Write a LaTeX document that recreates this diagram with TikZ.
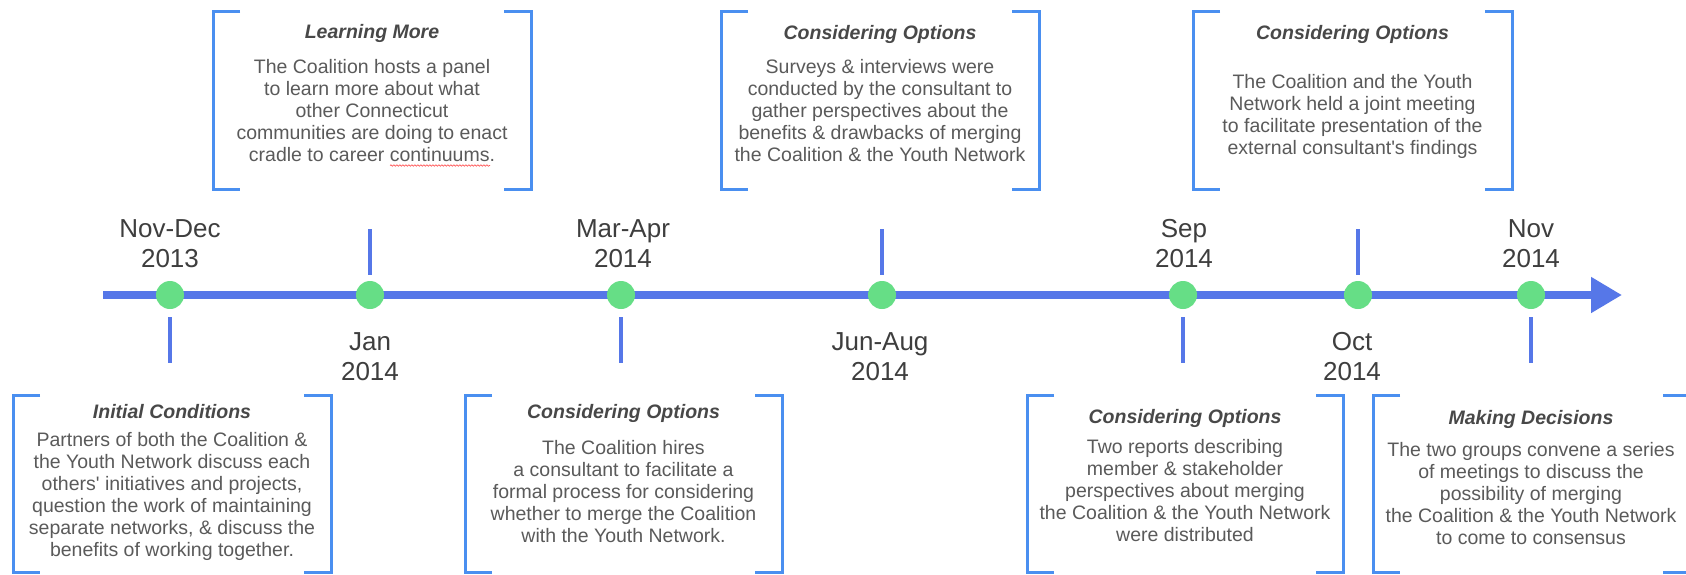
\documentclass[tikz,border=0pt]{standalone}
\usepackage{fontspec}
\setmainfont{Liberation Sans}
\usetikzlibrary{arrows.meta,decorations.pathmorphing}
\definecolor{axisblue}{HTML}{5677E8}
\definecolor{brkblue}{HTML}{4A8FF0}
\definecolor{dotgreen}{HTML}{66DE86}
\definecolor{datecol}{HTML}{3E3E3E}
\definecolor{titlecol}{HTML}{484848}
\definecolor{bodycol}{HTML}{5A5A5A}
\begin{document}
\begin{tikzpicture}[x=1pt,y=-1pt,
  axisline/.style={draw=axisblue, line width=8pt, -{Triangle[length=31pt,width=34pt]}},
  evdot/.style={circle, fill=dotgreen, minimum size=28pt, inner sep=0pt},
  tickline/.style={draw=axisblue, line width=3.5pt},
  brk/.style={draw=brkblue, line width=3pt},
  spell/.style={draw=red!65, line width=0.7pt, decorate, decoration={snake, amplitude=0.7pt, segment length=3pt}},
  datelbl/.style={anchor=north, align=center, inner sep=0pt, text=datecol, font=\fontsize{26}{30.5}\selectfont},
  ttl/.style={anchor=base, inner sep=0pt, text=titlecol, font=\fontsize{19.5}{22}\selectfont\bfseries\itshape},
  bodytxt/.style={anchor=north, align=center, inner sep=0pt, text=bodycol, font=\fontsize{19.5}{22}\selectfont},
]
\useasboundingbox[fill=white] (0,0) rectangle (1686,574);

% axis
\coordinate (axstart) at (103,295);
\coordinate (axend) at (1622,295);
\draw[axisline] (axstart) -- (axend);

% dots
\node[evdot] (d1) at (170,295) {};
\node[evdot] (d2) at (370,295) {};
\node[evdot] (d3) at (621,295) {};
\node[evdot] (d4) at (882,295) {};
\node[evdot] (d5) at (1183,295) {};
\node[evdot] (d6) at (1358,295) {};
\node[evdot] (d7) at (1531,295) {};

% ticks
\coordinate (t1a) at (170,317); \coordinate (t1b) at (170,363);
\coordinate (t2a) at (370,229); \coordinate (t2b) at (370,275);
\coordinate (t3a) at (621,317); \coordinate (t3b) at (621,363);
\coordinate (t4a) at (882,229); \coordinate (t4b) at (882,275);
\coordinate (t5a) at (1183,317); \coordinate (t5b) at (1183,363);
\coordinate (t6a) at (1358,229); \coordinate (t6b) at (1358,275);
\coordinate (t7a) at (1531,317); \coordinate (t7b) at (1531,363);
\draw[tickline] (t1a) -- (t1b);
\draw[tickline] (t2a) -- (t2b);
\draw[tickline] (t3a) -- (t3b);
\draw[tickline] (t4a) -- (t4b);
\draw[tickline] (t5a) -- (t5b);
\draw[tickline] (t6a) -- (t6b);
\draw[tickline] (t7a) -- (t7b);

% date labels
\node[datelbl] (l1) at (170,215.6) {\strut Nov-Dec\\2013};
\node[datelbl] (l2) at (370,328.6) {\strut Jan\\2014};
\node[datelbl] (l3) at (623,215.6) {\strut Mar-Apr\\2014};
\node[datelbl] (l4) at (880,328.6) {\strut Jun-Aug\\2014};
\node[datelbl] (l5) at (1184,215.6) {\strut Sep\\2014};
\node[datelbl] (l6) at (1352,328.6) {\strut Oct\\2014};
\node[datelbl] (l7) at (1531,215.6) {\strut Nov\\2014};

% brackets
\draw[brk] (40,395) -- (13,395) -- (13,572) -- (40,572);
\draw[brk] (304,395) -- (331,395) -- (331,572) -- (304,572);
\draw[brk] (240,11) -- (213,11) -- (213,189) -- (240,189);
\draw[brk] (504,11) -- (531,11) -- (531,189) -- (504,189);
\draw[brk] (492,395) -- (465,395) -- (465,572) -- (492,572);
\draw[brk] (755,395) -- (782,395) -- (782,572) -- (755,572);
\draw[brk] (748,11) -- (721,11) -- (721,189) -- (748,189);
\draw[brk] (1012,11) -- (1039,11) -- (1039,189) -- (1012,189);
\draw[brk] (1054,395) -- (1027,395) -- (1027,572) -- (1054,572);
\draw[brk] (1316,395) -- (1343,395) -- (1343,572) -- (1316,572);
\draw[brk] (1220,11) -- (1193,11) -- (1193,189) -- (1220,189);
\draw[brk] (1485,11) -- (1512,11) -- (1512,189) -- (1485,189);
\draw[brk] (1400,395) -- (1373,395) -- (1373,572) -- (1400,572);
\draw[brk] (1663,395) -- (1690,395) -- (1690,572) -- (1663,572);

% box 1
\node[ttl] (h1) at (172,418.5) {Initial Conditions};
\node[bodytxt] (b1) at (172,430.5) {\strut Partners of both the Coalition \&\\the Youth Network discuss each\\others{\textquotesingle} initiatives and projects,\\question the work of maintaining\\separate networks, \& discuss the\\benefits of working together.};

% box 2
\node[ttl] (h2) at (372,38.5) {Learning More};
\node[bodytxt] (b2) at (372,58) {\strut The Coalition hosts a panel\\to learn more about what\\other Connecticut\\communities are doing to enact\\cradle to career continuums.};
\coordinate (sp1) at (390,165.5);
\coordinate (sp2) at (490,165.5);
\draw[spell] (sp1) -- (sp2);

% box 3
\node[ttl] (h3) at (623.5,418.5) {Considering Options};
\node[bodytxt] (b3) at (623.5,438.8) {\strut The Coalition hires\\a consultant to facilitate a\\formal process for considering\\whether to merge the Coalition\\with the Youth Network.};

% box 4
\node[ttl] (h4) at (880,39) {Considering Options};
\node[bodytxt] (b4) at (880,57.8) {\strut Surveys \& interviews were\\conducted by the consultant to\\gather perspectives about the\\benefits \& drawbacks of merging\\the Coalition \& the Youth Network};

% box 5
\node[ttl] (h5) at (1185,423.5) {Considering Options};
\node[bodytxt] (b5) at (1185,437.5) {\strut Two reports describing\\member \& stakeholder\\perspectives about merging\\the Coalition \& the Youth Network\\were distributed};

% box 6
\node[ttl] (h6) at (1352.5,39) {Considering Options};
\node[bodytxt] (b6) at (1352.5,72.5) {\strut The Coalition and the Youth\\Network held a joint meeting\\to facilitate presentation of the\\external consultant{\textquotesingle}s findings};

% box 7
\node[ttl] (h7) at (1531,424) {Making Decisions};
\node[bodytxt] (b7) at (1531,440.8) {\strut The two groups convene a series\\of meetings to discuss the\\possibility of merging\\the Coalition \& the Youth Network\\to come to consensus};
\end{tikzpicture}
\end{document}
